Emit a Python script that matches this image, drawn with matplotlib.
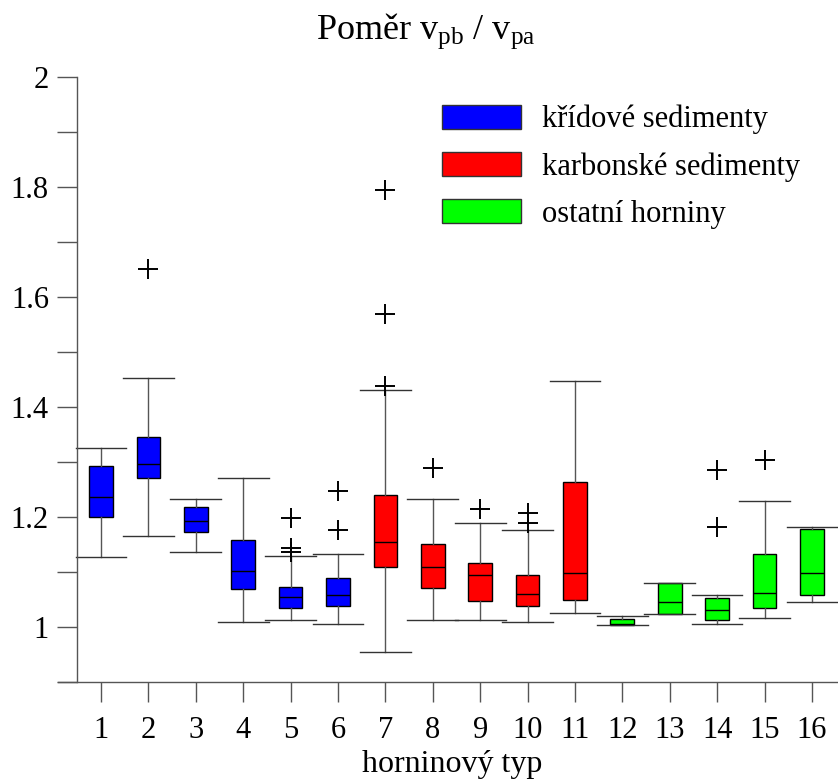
import matplotlib
matplotlib.use("Agg")
import matplotlib.pyplot as plt
from matplotlib.patches import Patch
from matplotlib.ticker import MultipleLocator, FuncFormatter

plt.rcParams['font.family'] = ['Liberation Serif', 'DejaVu Serif']
plt.rcParams['mathtext.fontset'] = 'custom'
plt.rcParams['mathtext.rm'] = 'Liberation Serif'
plt.rcParams['mathtext.it'] = 'Liberation Serif:italic'

# rock type number and group (0 = Cretaceous, 1 = Carboniferous, 2 = other)
rock_types = list(range(1, 17))
groups = [0, 0, 0, 0, 0, 0, 1, 1, 1, 1, 1, 2, 2, 2, 2, 2]

# box statistics of vp_b / vp_a per rock type
whisker_low = [1.127, 1.165, 1.137, 1.010, 1.013, 1.005, 0.955, 1.013,
               1.013, 1.010, 1.025, 1.003, 1.024, 1.005, 1.016, 1.045]
q1 = [1.200, 1.271, 1.173, 1.070, 1.034, 1.038, 1.109, 1.071,
      1.048, 1.038, 1.049, 1.004, 1.024, 1.013, 1.035, 1.058]
medians = [1.236, 1.296, 1.193, 1.102, 1.055, 1.058, 1.155, 1.109,
           1.095, 1.060, 1.098, 1.006, 1.045, 1.031, 1.062, 1.098]
q3 = [1.293, 1.345, 1.218, 1.158, 1.073, 1.090, 1.240, 1.151,
      1.116, 1.094, 1.264, 1.014, 1.080, 1.053, 1.133, 1.178]
whisker_high = [1.325, 1.453, 1.233, 1.271, 1.130, 1.133, 1.431, 1.232,
                1.189, 1.176, 1.448, 1.020, 1.080, 1.058, 1.229, 1.182]
outliers = [[], [1.651], [], [], [1.198, 1.143, 1.137], [1.247, 1.176],
            [1.795, 1.569, 1.438], [1.289], [1.215], [1.207, 1.189],
            [], [], [], [1.285, 1.182], [1.304], []]

group_names = ['křídové sedimenty', 'karbonské sedimenty', 'ostatní horniny']
group_colors = ['#0000ff', '#ff0000', '#00ff00']

stats = []
for i in range(len(rock_types)):
    stats.append({'med': medians[i], 'q1': q1[i], 'q3': q3[i],
                  'whislo': whisker_low[i], 'whishi': whisker_high[i],
                  'fliers': outliers[i]})

fig = plt.figure(figsize=(8.38, 7.8), dpi=100)
ax = fig.add_axes([58 / 838, 98 / 780, 780 / 838, 605 / 780])

res = ax.bxp(stats, positions=rock_types, widths=0.5, capwidths=1.07,
             patch_artist=True,
             boxprops=dict(edgecolor='black', linewidth=1.0),
             medianprops=dict(color='black', linewidth=1.0),
             whiskerprops=dict(color='#555555', linewidth=1.0),
             capprops=dict(color='#333333', linewidth=1.0),
             flierprops=dict(marker='+', markersize=15, markeredgecolor='black',
                             markeredgewidth=1.4))
for box, g in zip(res['boxes'], groups):
    box.set_facecolor(group_colors[g])

ax.set_xlim(0.093, 16.55)
ax.set_ylim(0.9, 2.0)

for side in ['top', 'right']:
    ax.spines[side].set_visible(False)
ax.spines['left'].set_position(('data', 0.5))
for side in ['left', 'bottom']:
    ax.spines[side].set_color('#555555')
    ax.spines[side].set_linewidth(1.0)

ax.set_xticks(rock_types)
ax.set_xticklabels([str(r) for r in rock_types])
ax.yaxis.set_major_locator(MultipleLocator(0.2))
ax.yaxis.set_minor_locator(MultipleLocator(0.1))
ax.yaxis.set_major_formatter(FuncFormatter(lambda v, p: '%g' % round(v, 2)))
ax.tick_params(axis='both', which='both', direction='out', length=14.4,
               width=1.0, color='#555555', labelsize=22)
ax.tick_params(axis='y', pad=6)
ax.tick_params(axis='x', pad=10)

ax.set_xlabel('horninový typ', fontsize=23)
ax.xaxis.set_label_coords(0.506, -0.113)

fig.text(426 / 838, 1 - 39 / 780, r'Poměr v$_\mathrm{pb}$ / v$_\mathrm{pa}$',
         fontsize=26, ha='center', va='baseline')

handles = [Patch(facecolor=c, edgecolor='#333333', linewidth=1.0)
           for c in group_colors]
ax.legend(handles, group_names, loc='upper left', bbox_to_anchor=(0.476, 0.974),
          frameon=False, fontsize=22, handlelength=2.61, handleheight=0.82,
          handletextpad=0.68, labelspacing=0.58, borderaxespad=0)

fig.savefig('out.png', dpi=100)
